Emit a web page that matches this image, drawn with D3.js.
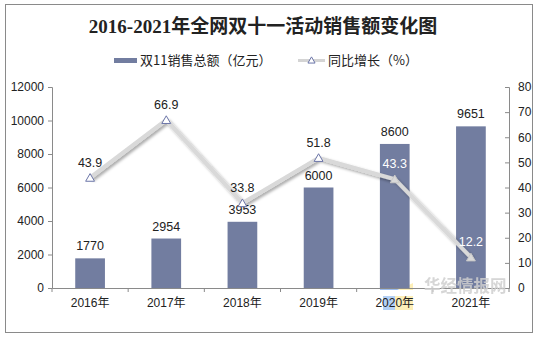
<!DOCTYPE html>
<html><head><meta charset="utf-8">
<script src="https://cdn.jsdelivr.net/npm/d3@7"></script>
<style>body{margin:0;background:#fff}svg{display:block}</style>
</head><body>
<script>
const categories = ["2016年","2017年","2018年","2019年","2020年","2021年"];
const salesValues = [1770, 2954, 3953, 6000, 8600, 9651];
const growthValues = [43.9, 66.9, 33.8, 51.8, 43.3, 12.2];
const leftTicks = [0,2000,4000,6000,8000,10000,12000];
const rightTicks = [0,10,20,30,40,50,60,70,80];
const title = "2016-2021年全网双十一活动销售额变化图";
const legendLabels = ["双11销售总额（亿元）","同比增长（%）"];

const W = 538, H = 339;
const m = {l:52, r:29, t:87, b:51};
const svg = d3.select("body").append("svg").attr("width",W).attr("height",H);
const defs = svg.append("defs");
const f = defs.append("filter").attr("id","sh").attr("x","-20%").attr("y","-20%").attr("width","140%").attr("height","140%");
f.append("feDropShadow").attr("dx",2).attr("dy",2).attr("stdDeviation",1.8).attr("flood-color","#000").attr("flood-opacity",0.35);

svg.append("rect").attr("x",5.5).attr("y",4.5).attr("width",527).attr("height",328).attr("fill","#fff").attr("stroke","#8a8a8a");

const x = d3.scaleBand().domain(categories).range([m.l, W-m.r]).paddingInner(0.61).paddingOuter(0.305);
const xb = d3.scaleBand().domain(categories).range([m.l, W-m.r]);
const yL = d3.scaleLinear().domain([0,12000]).range([H-m.b, m.t]);
const yR = d3.scaleLinear().domain([0,80]).range([H-m.b, m.t]);
const font = "'Liberation Sans', Arial, 'Noto Sans CJK SC', sans-serif";

// title
svg.append("text").attr("x",263).attr("y",33).attr("text-anchor","middle")
  .attr("font-family","'Liberation Serif','Noto Sans CJK SC',serif").attr("font-weight","bold")
  .attr("font-size",19).attr("fill","#222").text(title);

// legend
const lg = svg.append("g");
lg.append("rect").attr("x",114).attr("y",58).attr("width",23).attr("height",5).attr("fill","#727da0");
lg.append("text").attr("x",140).attr("y",65).attr("font-family","'Noto Sans CJK SC',sans-serif").attr("font-size",13).attr("fill","#222").text(legendLabels[0]);
lg.append("line").attr("x1",298).attr("x2",325).attr("y1",60.5).attr("y2",60.5).attr("stroke","#d4d4d4").attr("stroke-width",3);
lg.append("path").attr("d",d3.symbol(d3.symbolTriangle,22)()).attr("transform","translate(311.5,61)").attr("fill","#fff").attr("stroke","#6b75a8");
lg.append("text").attr("x",328).attr("y",65).attr("font-family","'Noto Sans CJK SC',sans-serif").attr("font-size",13).attr("fill","#222").text(legendLabels[1]);

// watermark logo (behind labels)
const wm = svg.append("g").attr("opacity",0.6);
wm.append("path").attr("d","M380,283 L400,290 L380,290 Z").attr("fill","#5b8fe0");
wm.append("path").attr("d","M398,290 L413,283 L413,290 Z").attr("fill","#fde58a");
wm.append("rect").attr("x",383).attr("y",296).attr("width",12).attr("height",14).attr("fill","#7fb0f0");
wm.append("rect").attr("x",395).attr("y",296).attr("width",18).attr("height",14).attr("fill","#fde58a");

// axes
const axL = svg.append("g").attr("transform",`translate(${m.l},0)`)
  .call(d3.axisLeft(yL).tickValues(leftTicks).tickSize(4).tickPadding(4).tickFormat(d3.format("d")));
const axR = svg.append("g").attr("transform",`translate(${W-m.r},0)`)
  .call(d3.axisRight(yR).tickValues(rightTicks).tickSize(-4).tickPadding(9).tickFormat(d3.format("d")));
const axX = svg.append("g").attr("transform",`translate(0,${H-m.b})`)
  .call(d3.axisBottom(xb).tickSize(0).tickPadding(10));
svg.append("g").selectAll("line").data(categories.concat(["end"])).join("line")
  .attr("x1",(d,i)=> i<categories.length ? xb(d) : W-m.r)
  .attr("x2",(d,i)=> i<categories.length ? xb(d) : W-m.r)
  .attr("y1",H-m.b).attr("y2",H-m.b+4).attr("stroke","#8a8a8a");
[axL,axR,axX].forEach(a=>{
  a.selectAll("path.domain").attr("stroke","#8a8a8a");
  a.selectAll(".tick line").attr("stroke","#8a8a8a");
  a.selectAll("text").attr("font-family",font).attr("font-size",12).attr("fill","#222");
});

// bars
const data = categories.map((c,i)=>({c, s:salesValues[i], g:growthValues[i]}));
svg.append("g").selectAll("rect").data(data).join("rect")
  .attr("x",d=>x(d.c)).attr("width",x.bandwidth())
  .attr("y",d=>yL(d.s)).attr("height",d=>yL(0)-yL(d.s)).attr("fill","#727da0");
svg.append("g").selectAll("text").data(data).join("text")
  .attr("x",d=>x(d.c)+x.bandwidth()/2).attr("y",d=>yL(d.s)-8)
  .attr("text-anchor","middle").attr("font-family",font).attr("font-size",12.5).attr("fill","#222")
  .text(d=>d.s);

// watermark text
svg.append("text").attr("x",424).attr("y",292).attr("font-family","'Noto Sans CJK SC',sans-serif").attr("font-weight","bold")
  .attr("font-size",16.5).attr("fill","#cfcfcf").attr("opacity",0.85).text("华经情报网");

// line
const line = d3.line().x(d=>xb(d.c)+xb.bandwidth()/2).y(d=>yR(d.g));
svg.append("path").datum(data).attr("d",line).attr("fill","none").attr("stroke","#d9d9d9")
  .attr("stroke-width",4).attr("stroke-linejoin","round").attr("filter","url(#sh)");
svg.append("g").selectAll("path").data(data).join("path")
  .attr("d",d3.symbol(d3.symbolTriangle,34)())
  .attr("transform",d=>`translate(${xb(d.c)+xb.bandwidth()/2},${yR(d.g)+1})`)
  .attr("fill",(d,i)=> i>=4 ? "#d9d9d9" : "#fff").attr("stroke",(d,i)=> i>=4 ? "#c8c8c8" : "#6b75a8").attr("stroke-width",1);
svg.append("g").selectAll("text").data(data).join("text")
  .attr("x",d=>xb(d.c)+xb.bandwidth()/2).attr("y",d=>yR(d.g)-11)
  .attr("text-anchor","middle").attr("font-family",font).attr("font-size",12.5)
  .attr("fill",(d,i)=> i>=4 ? "#fff" : "#222").text(d=>d.g);
</script>
</body></html>
